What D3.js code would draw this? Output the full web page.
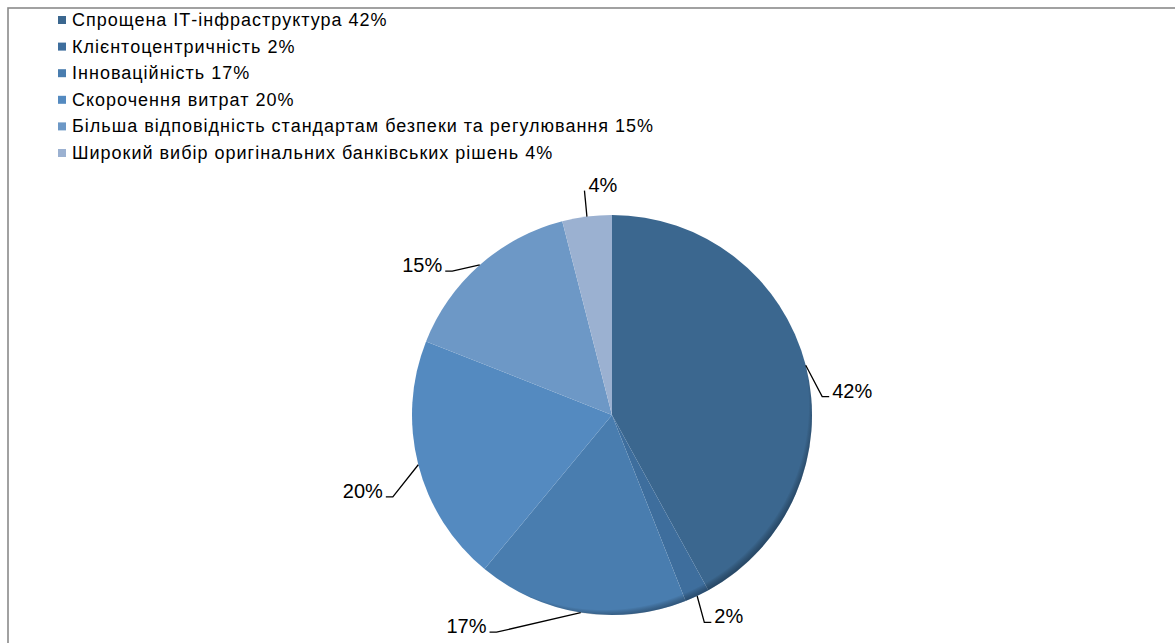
<!DOCTYPE html>
<html>
  <head>
    <meta charset="utf-8" />
    <script src="https://cdnjs.cloudflare.com/ajax/libs/d3/7.8.5/d3.min.js"></script>
    <style>
      body { margin: 0; background: #fff; }
      svg { display: block; font-family: "Liberation Sans", Arial, sans-serif; }
    </style>
  </head>
  <body>
    <svg width="1175" height="643"></svg>
  </body>

  <script>
    const categories = [
      "Спрощена ІТ-інфраструктура",
      "Клієнтоцентричність",
      "Інноваційність",
      "Скорочення витрат",
      "Більша відповідність стандартам безпеки та регулювання",
      "Широкий вибір оригінальних банківських рішень"
    ];
    const shares = [42, 2, 17, 20, 15, 4];
    const palette = ["#3b678f", "#3e6e9d", "#497daf", "#548ac0", "#6d98c6", "#9bb1d1"];

    // where the data labels' leader elbows sit: [angle in degrees, radius]
    const labelAngle = [85, 156, 208, 249.5, 312, 353];
    const labelRadius = [211, 227, 246, 234, 215, 226];

    const svg = d3.select("svg");
    const cx = 612, cy = 415, r = 200;

    // frame
    svg.append("rect")
      .attr("x", 8).attr("y", 8)
      .attr("width", 1250).attr("height", 700)
      .attr("fill", "none")
      .attr("stroke", "#8a8a8a")
      .attr("stroke-width", 1.6);

    // legend
    const legend = svg.append("g").selectAll("g")
      .data(categories)
      .join("g")
      .attr("transform", (d, i) => `translate(0,${20 + i * 26.6})`);
    legend.append("rect")
      .attr("x", 58).attr("y", -4)
      .attr("width", 8).attr("height", 8)
      .attr("fill", (d, i) => palette[i]);
    legend.append("text")
      .attr("x", 72).attr("y", 6)
      .attr("font-size", 18)
      .attr("letter-spacing", 1)
      .attr("fill", "#000")
      .text((d, i) => `${d} ${shares[i]}%`);

    // pie
    const pie = d3.pie().sort(null).value(d => d);
    const arcs = pie(shares);
    const arc = d3.arc().innerRadius(0).outerRadius(r);

    const defs = svg.append("defs");
    const grad = defs.append("radialGradient")
      .attr("id", "rim")
      .attr("gradientUnits", "userSpaceOnUse")
      .attr("cx", cx - 8).attr("cy", cy - 10).attr("r", 212);
    grad.append("stop").attr("offset", 0.965).attr("stop-color", "#000").attr("stop-opacity", 0);
    grad.append("stop").attr("offset", 1).attr("stop-color", "#0a1a2a").attr("stop-opacity", 0.4);

    const g = svg.append("g").attr("transform", `translate(${cx},${cy})`);
    g.selectAll("path.slice")
      .data(arcs)
      .join("path")
      .attr("class", "slice")
      .attr("d", arc)
      .attr("fill", (d, i) => palette[i]);

    svg.append("circle")
      .attr("cx", cx).attr("cy", cy).attr("r", r)
      .attr("fill", "url(#rim)");

    // data labels with leader lines
    const pt = (a, rad) => [Math.sin(a) * rad, -Math.cos(a) * rad];
    const labels = g.selectAll("g.lbl")
      .data(arcs)
      .join("g")
      .attr("class", "lbl");

    labels.each(function (d, i) {
      const sel = d3.select(this);
      const mid = (d.startAngle + d.endAngle) / 2;
      const start = pt(mid, r);
      const a = labelAngle[i] * Math.PI / 180;
      const elbow = pt(a, labelRadius[i]);
      const top = Math.abs(elbow[0]) < 40 && elbow[1] < 0;
      const side = elbow[0] >= 0 ? 1 : -1;
      const end = top ? elbow : [elbow[0] + side * 7, elbow[1]];
      sel.append("path")
        .attr("d", d3.line()([start, elbow, end]))
        .attr("fill", "none")
        .attr("stroke", "#000")
        .attr("stroke-width", 1.3);
      sel.append("text")
        .attr("x", top ? end[0] + 4 : end[0] + side * 3)
        .attr("y", end[1] + 1)
        .attr("text-anchor", top || side > 0 ? "start" : "end")
        .attr("font-size", 20)
        .attr("fill", "#000")
        .text(shares[i] + "%");
    });
  </script>
</html>
